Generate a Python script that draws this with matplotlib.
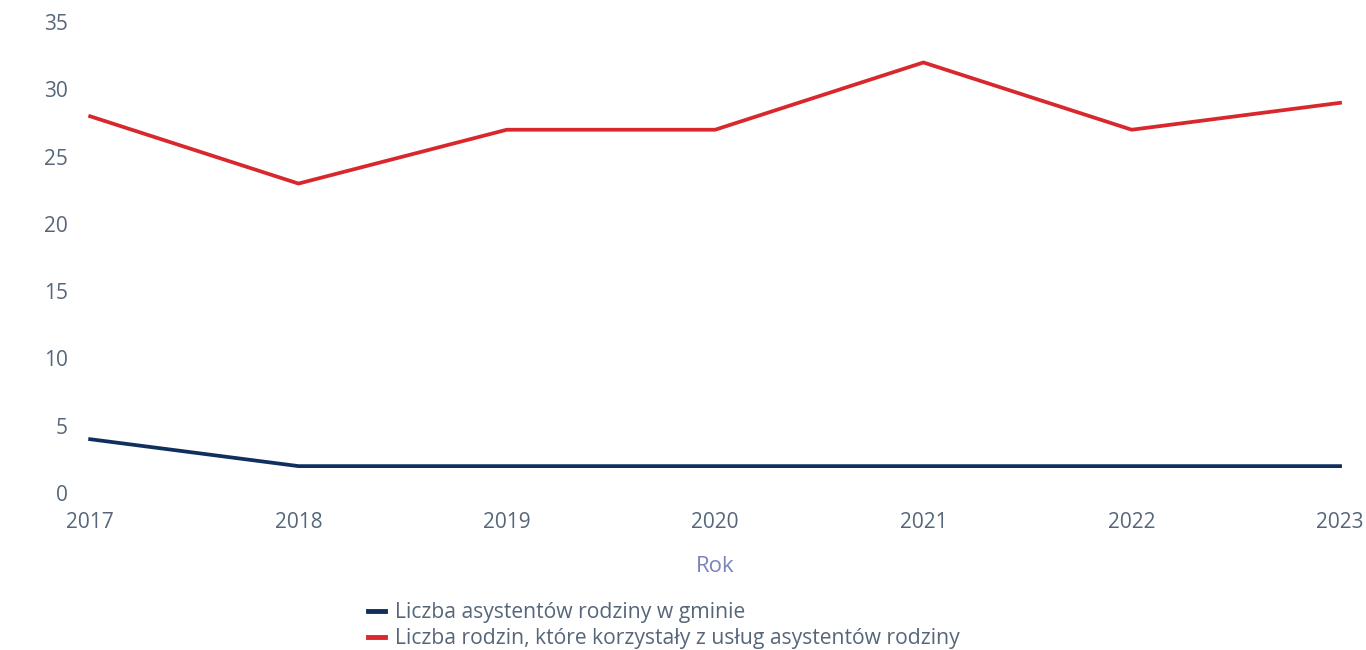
import matplotlib
matplotlib.use("Agg")
import matplotlib.pyplot as plt

years = [2017, 2018, 2019, 2020, 2021, 2022, 2023]
asystenci = [4, 2, 2, 2, 2, 2, 2]
rodziny = [28, 23, 27, 27, 32, 27, 29]
yticks = [0, 5, 10, 15, 20, 25, 30, 35]

plt.rcParams['font.family'] = ['Open Sans', 'DejaVu Sans']
tick_color = "#56667a"

fig = plt.figure(figsize=(13.66, 6.5), dpi=100)
ax = fig.add_axes([0.066, 0.2415, 0.915, 0.7245])

ax.plot(years, asystenci, color="#0f2f5e", linewidth=2.7, clip_on=False,
        label="Liczba asystentów rodziny w gminie")
ax.plot(years, rodziny, color="#d8282e", linewidth=2.7, clip_on=False,
        label="Liczba rodzin, które korzystały z usług asystentów rodziny")

ax.set_xlim(2017, 2023)
ax.set_ylim(0, 35)
ax.set_xticks(years)
ax.set_yticks(yticks)
for s in ax.spines.values():
    s.set_visible(False)
ax.tick_params(axis="both", length=0, labelsize=15, colors=tick_color)
ax.tick_params(axis="x", pad=14)
ax.tick_params(axis="y", pad=16)

ax.set_xlabel("Rok", fontsize=16, color="#7b83b8", labelpad=16)

leg = fig.legend(loc="upper left", bbox_to_anchor=(0.263, 0.087), frameon=False,
                 fontsize=15.2, handlelength=0.8, handletextpad=0.5, labelspacing=0.25,
                 labelcolor=tick_color, borderaxespad=0)
for h in leg.legend_handles:
    h.set_linewidth(3.5)

fig.savefig("out.png", dpi=100)
